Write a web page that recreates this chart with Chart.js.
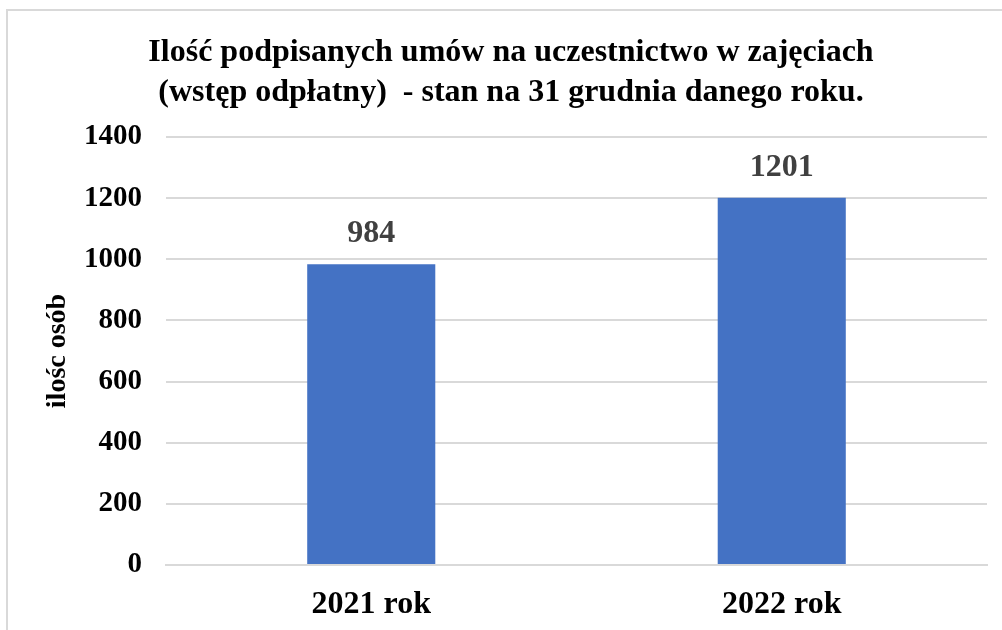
<!DOCTYPE html>
<html>
<head>
<meta charset="utf-8">
<script src="https://cdn.jsdelivr.net/npm/chart.js@4/dist/chart.umd.min.js"></script>
<style>
  html, body { margin: 0; padding: 0; background: #fff; overflow: hidden; width: 1002px; height: 630px; }
  #box { position: absolute; left: 6px; top: 9px; width: 1010px; height: 640px;
         border-left: 2px solid #d9d9d9; border-top: 2px solid #d9d9d9; background: #fff; }
  #wrap { position: absolute; left: 0; top: 0; width: 1008px; height: 619px; }
</style>
</head>
<body>
<div id="box"><div id="wrap"><canvas id="c"></canvas></div></div>
<script>
const categories = ["2021 rok", "2022 rok"];
const values = [984, 1201];
const titleLines = ["Ilość podpisanych umów na uczestnictwo w zajęciach", "(wstęp odpłatny)  - stan na 31 grudnia danego roku."];
const yAxisTitle = "ilośc osób";
const yMin = 0, yMax = 1400, yStep = 200;

const SERIF = "'Liberation Serif', 'Times New Roman', serif";

const valueLabels = {
  id: 'valueLabels',
  afterDatasetsDraw(chart) {
    const ctx = chart.ctx;
    const meta = chart.getDatasetMeta(0);
    ctx.save();
    ctx.font = "bold 32px " + SERIF;
    ctx.fillStyle = "#404040";
    ctx.textAlign = "center";
    ctx.textBaseline = "middle";
    meta.data.forEach((bar, i) => {
      ctx.fillText(String(chart.data.datasets[0].data[i]), bar.x, bar.y - 30);
    });
    ctx.restore();
  }
};

new Chart(document.getElementById('c'), {
  type: 'bar',
  data: {
    labels: categories,
    datasets: [{
      data: values,
      backgroundColor: '#4472C4',
      borderWidth: 0,
      categoryPercentage: 1.0,
      barPercentage: 0.312
    }]
  },
  options: {
    responsive: true,
    maintainAspectRatio: false,
    animation: false,
    layout: { padding: { left: 27, right: 29, top: 0, bottom: 0 } },
    plugins: {
      legend: { display: false },
      tooltip: { enabled: false },
      title: {
        display: true,
        text: titleLines,
        color: '#000',
        font: { family: SERIF, size: 32, weight: 'bold', lineHeight: 1.25 },
        padding: { top: 22, bottom: 24 }
      }
    },
    scales: {
      x: {
        grid: { display: false, drawTicks: false },
        border: { display: true, color: '#d9d9d9', width: 2 },
        ticks: { color: '#000', font: { family: SERIF, size: 32, weight: 'bold' }, padding: 21 },
        afterFit(scale) { scale.height = 65; }
      },
      y: {
        min: yMin, max: yMax,
        ticks: { stepSize: yStep, color: '#000', font: { family: SERIF, size: 29, weight: 'bold' }, padding: 24,
                 callback: (v) => String(v) },
        grid: { color: '#d9d9d9', lineWidth: 2, drawTicks: false },
        border: { display: false },
        title: {
          display: true, text: yAxisTitle, color: '#000',
          font: { family: SERIF, size: 28, weight: 'bold' },
          padding: { top: 6, bottom: 0 }
        },
        afterFit(scale) { scale.width = 131; }
      }
    }
  },
  plugins: [valueLabels]
});
</script>
</body>
</html>
